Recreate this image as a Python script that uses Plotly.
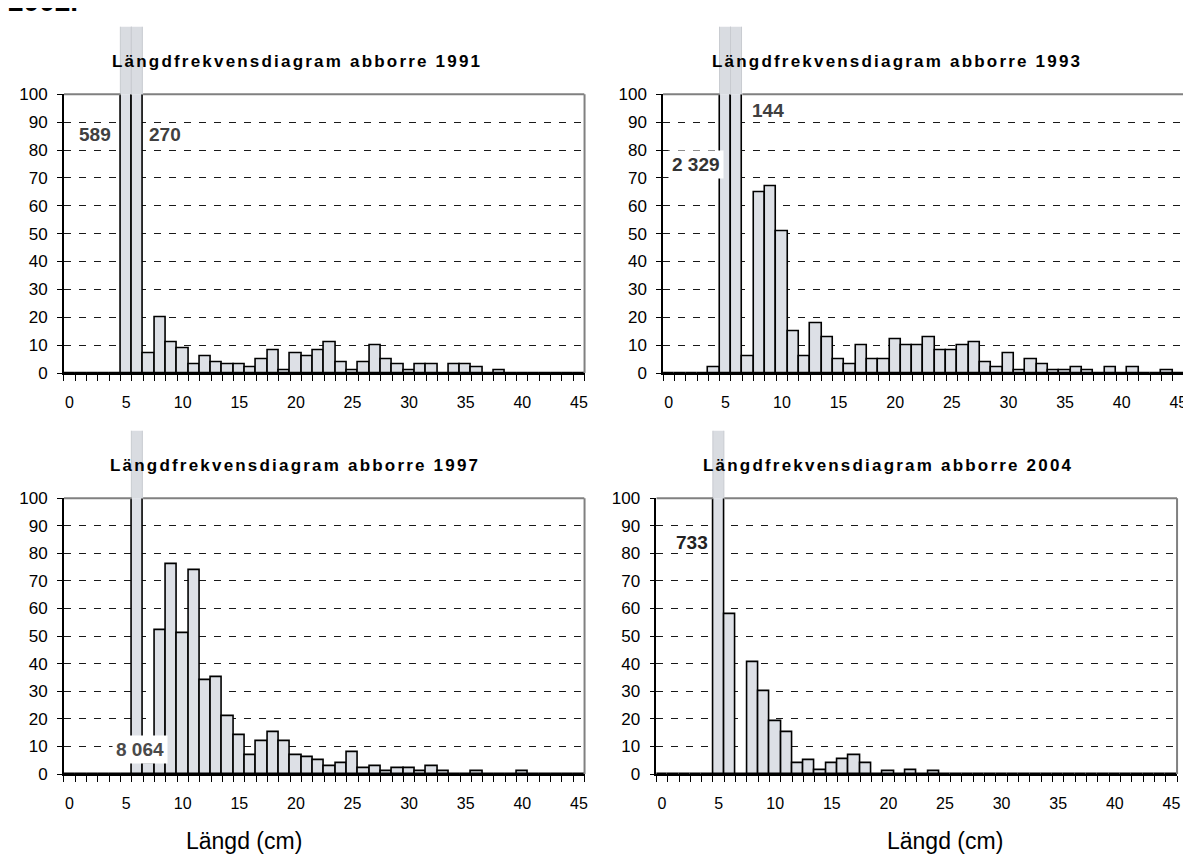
import plotly.graph_objects as go

W, H = 1191, 865

# ---------------- data ----------------
lengths = list(range(46))                      # length classes (cm)
x_tick_values = list(range(0, 50, 5))
x_tick_labels = [str(v) for v in x_tick_values]
y_tick_values = list(range(0, 110, 10))

freq_1991 = [0, 0, 0, 0, 0, 589, 270, 7, 20, 11, 9, 3, 6, 4, 3, 3, 2, 5, 8, 1,
             7, 6, 8, 11, 4, 1, 4, 10, 5, 3, 1, 3, 3, 0, 3, 3, 2, 0, 1, 0,
             0, 0, 0, 0, 0, 0]
freq_1993 = [0, 0, 0, 0, 2, 2329, 144, 6, 65, 67, 51, 15, 6, 18, 13, 5, 3, 10, 5, 5,
             12, 10, 10, 13, 8, 8, 10, 11, 4, 2, 7, 1, 5, 3, 1, 1, 2, 1, 0, 2,
             0, 2, 0, 0, 1, 0]
freq_1997 = [0, 0, 0, 0, 0, 0, 8064, 4, 52, 76, 51, 74, 34, 35, 21, 14, 7, 12, 15, 12,
             7, 6, 5, 3, 4, 8, 2, 3, 1, 2, 2, 1, 3, 1, 0, 0, 1, 0, 0, 0,
             1, 0, 0, 0, 0, 0]
freq_2004 = [0, 0, 0, 0, 0, 733, 58, 0, 40.5, 30, 19, 15, 4, 5, 1.5, 4, 5.5, 7, 4, 0,
             1, 0, 1.5, 0, 1, 0, 0, 0, 0, 0, 0, 0, 0, 0, 0, 0, 0, 0, 0, 0,
             0, 0, 0, 0, 0, 0]

years = ["1991", "1993", "1997", "2004"]
series = [freq_1991, freq_1993, freq_1997, freq_2004]
title_prefix = "Längdfrekvensdiagram abborre "
x_title = "Längd (cm)"
header_text = "2002."
Y_MAX = 100

# ---------------- layout geometry (pixels) ----------------
# (left, right, top_of_100, bottom_of_0, top_of_overflow)
panels = [
    (56.0, 578.0, 79.0, 364.0, 10.0),
    (656.7, 1179.0, 79.0, 364.0, 10.0),
    (56.0, 578.0, 492.0, 774.0, 423.0),
    (650.0, 1172.0, 492.0, 774.0, 423.0),
]
title_pos = [(290, 46), (891.0, 46), (288, 459), (882, 459)]
# value labels for truncated bars: (panel, bar index, px x, px y, white bg, color)
big_labels = [
    (0, 5, 87.0, 120.5, False, "#404040"),
    (0, 6, 157.0, 120.5, False, "#404040"),
    (1, 6, 761.5, 95.5, False, "#404040"),
    (1, 5, 689.5, 151.0, True, "#333333"),
    (2, 6, 132.0, 749.0, True, "#4a4a4a"),
    (3, 5, 685.5, 537.0, False, "#222222"),
]
xlabel_pos = [(237, 843), (939, 843)]

FONT = "Liberation Sans, Arial, Helvetica, sans-serif"
BAR_FILL = "#dde0e6"
OVER_FILL = "#d9dce1"


def px(x):
    return x / W


def py(y):
    return 1 - y / H


fig = go.Figure()
layout = dict(
    width=W, height=H,
    margin=dict(l=0, r=0, t=0, b=0),
    paper_bgcolor="white", plot_bgcolor="white",
    showlegend=False, bargap=0,
    font=dict(family=FONT, color="black"),
)
shapes = []
annotations = []

for i, (vals, yr) in enumerate(zip(series, years)):
    s = "" if i == 0 else str(i + 1)
    so = str(i + 5)
    left, right, top, bottom, otop = panels[i]

    fig.add_trace(go.Bar(
        x=lengths, y=vals, width=1,
        xaxis="x" + s, yaxis="y" + s,
        marker=dict(color=BAR_FILL, line=dict(color="black", width=1.6)),
        hoverinfo="x+y",
    ))
    fig.add_trace(go.Bar(
        x=lengths, y=vals, width=1,
        xaxis="x" + s, yaxis="y" + so,
        marker=dict(color=OVER_FILL, line=dict(color="#c8cbd0", width=1)),
        hoverinfo="skip",
    ))

    layout["xaxis" + s] = dict(
        domain=[px(left), px(right)], range=[-0.5, 45.5], anchor="y" + s,
        tickmode="array", tickvals=x_tick_values, ticktext=x_tick_labels,
        ticks="outside", ticklen=6, tickcolor="rgba(0,0,0,0)",
        ticklabelstandoff=8,
        minor=dict(tickmode="linear", tick0=-0.5, dtick=1, ticks="outside",
                   ticklen=6, tickcolor="black", tickwidth=1, showgrid=False),
        showline=True, linecolor="black", linewidth=1.5,
        showgrid=False, zeroline=False,
        tickfont=dict(family=FONT, size=16, color="black"),
        fixedrange=True,
    )
    layout["yaxis" + s] = dict(
        domain=[py(bottom), py(top)], range=[0, Y_MAX], anchor="x" + s,
        tickmode="array", tickvals=y_tick_values,
        ticks="outside", ticklen=5, tickcolor="black", tickwidth=1,
        ticklabelstandoff=6,
        showline=True, linecolor="black", linewidth=1.5,
        showgrid=True, gridcolor="#1a1a1a", gridwidth=1, griddash="7px,8px",
        zeroline=False,
        tickfont=dict(family=FONT, size=17, color="black"),
        fixedrange=True,
    )
    layout["yaxis" + so] = dict(
        domain=[py(top), py(otop)], range=[Y_MAX, 124], anchor="x" + s,
        visible=False, showgrid=False, zeroline=False, fixedrange=True,
    )

    # grey top border (interrupted where truncated bars pass through)
    seg_start = None
    for c, v in zip(lengths + [None], vals + [None]):
        inside = c is not None and v <= Y_MAX
        if inside and seg_start is None:
            seg_start = c
        if not inside and seg_start is not None:
            end = (c if c is not None else lengths[-1] + 1)
            shapes.append(dict(
                type="line", xref="x" + s, yref="y" + s + " domain",
                x0=seg_start - 0.5, x1=end - 0.5, y0=1, y1=1,
                line=dict(color="#808080", width=2),
            ))
            seg_start = None
    # grey right border
    shapes.append(dict(
        type="line", xref="x" + s + " domain", yref="y" + s + " domain",
        x0=1, x1=1, y0=0, y1=1,
        line=dict(color="#808080", width=2),
    ))

    tx, ty = title_pos[i]
    annotations.append(dict(
        text='<span style="letter-spacing:2.2px"><b>' + title_prefix + yr + "</b></span>",
        xref="paper", yref="paper", x=px(tx), y=py(ty),
        xanchor="center", yanchor="middle", showarrow=False,
        font=dict(family=FONT, size=17, color="black"),
    ))

for (p, idx, lx, ly, bg, col) in big_labels:
    v = series[p][idx]
    txt = f"{int(v):,}".replace(",", " ")
    ann = dict(
        text="<b>" + txt + "</b>", xref="paper", yref="paper",
        x=px(lx), y=py(ly), xanchor="center", yanchor="middle",
        showarrow=False, font=dict(family=FONT, size=19, color=col),
    )
    if bg:
        ann.update(bgcolor="white", borderpad=3)
    annotations.append(ann)

for (lx, ly) in xlabel_pos:
    annotations.append(dict(
        text=x_title, xref="paper", yref="paper", x=px(lx), y=py(ly),
        xanchor="center", yanchor="middle", showarrow=False,
        font=dict(family=FONT, size=23, color="black"),
    ))

# page header from the surrounding document, only its lower edge is visible
annotations.append(dict(
    text="<b>" + header_text + "</b>", xref="paper", yref="paper",
    x=0, y=py(2), xanchor="left", yanchor="bottom", xshift=-2,
    showarrow=False, font=dict(family=FONT, size=28, color="black"),
))

layout["shapes"] = shapes
layout["annotations"] = annotations
fig.update_layout(**layout)
fig.write_html("out.html")
